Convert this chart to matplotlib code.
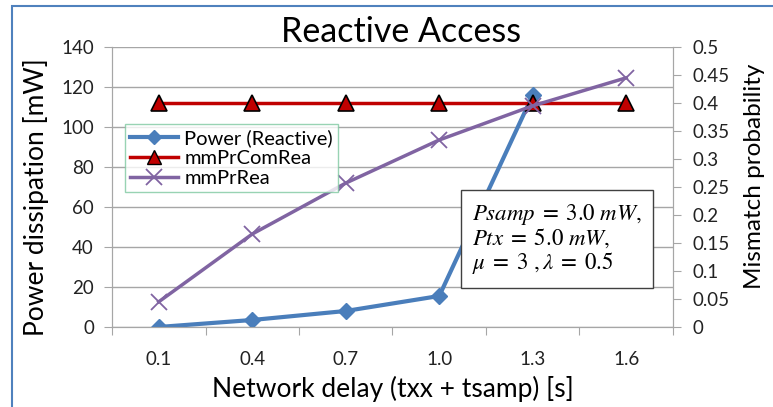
import matplotlib.pyplot as plt
from matplotlib.patches import Rectangle
from matplotlib.lines import Line2D

plt.rcParams['font.family'] = ['Lato', 'DejaVu Sans']
plt.rcParams['mathtext.fontset'] = 'stix'

# data
delays = ['0.1', '0.4', '0.7', '1.0', '1.3', '1.6']
power_reactive = [0, 3.5, 8, 15.5, 116]          # mW, last point missing
mm_pr_com_rea = [0.4, 0.4, 0.4, 0.4, 0.4, 0.4]
mm_pr_rea = [0.045, 0.166, 0.257, 0.334, 0.395, 0.445]

fig = plt.figure(figsize=(7.73, 4.07), dpi=100)
ax = fig.add_axes([0.1449, 0.1966, 0.7257, 0.6879])
ax2 = ax.twinx()

# outer blue frame (cut off on right / bottom like the screenshot)
fig.patches.append(Rectangle((12 / 773, -0.05), 1.0, 1 - 6 / 407 + 0.05,
                             transform=fig.transFigure, fill=False,
                             edgecolor='#4f81bd', lw=1.5))

xpos = [i + 0.5 for i in range(len(delays))]
grid_c = '#a6a6a6'
tick_fs = 13.5

ax.plot(xpos[:len(power_reactive)], power_reactive, color='#4a7ebb', lw=3,
        marker='D', ms=8, mfc='#4a7ebb', mec='#4a7ebb', zorder=3)
ax2.plot(xpos, mm_pr_com_rea, color='#c00000', lw=2.5, marker='^', ms=11,
         mfc='#c00000', mec='black', mew=1.2, zorder=3)
ax2.plot(xpos, mm_pr_rea, color='#8064a2', lw=2.5, marker='x', ms=12,
         mew=1.3, zorder=4)

ax.set_xlim(0, 6)
ax.set_ylim(0, 140)
ax.set_yticks(range(0, 141, 20))
ax2.set_ylim(0, 0.5)
ax2.set_yticks([i * 0.05 for i in range(11)])
ax2.set_yticklabels(['0', '0.05', '0.1', '0.15', '0.2', '0.25', '0.3', '0.35',
                     '0.4', '0.45', '0.5'])

ax.set_xticks(range(7))
ax.set_xticklabels([])
ax.set_xticks(xpos, minor=True)
ax.set_xticklabels(delays, minor=True)
ax.tick_params(axis='x', which='major', length=6, color=grid_c, direction='out')
ax.tick_params(axis='x', which='minor', length=0, pad=17, labelsize=tick_fs,
               labelcolor='#222222')
ax.tick_params(axis='y', length=6, pad=7, color=grid_c, labelsize=tick_fs,
               labelcolor='#222222')
ax2.tick_params(axis='y', length=6, pad=8, color=grid_c, labelsize=tick_fs,
                labelcolor='#222222')

ax.yaxis.grid(True, color=grid_c, lw=1)
ax.set_axisbelow(True)
for a in (ax, ax2):
    a.spines['top'].set_visible(False)
    for s in ('left', 'right', 'bottom'):
        a.spines[s].set_color(grid_c)

ax.set_ylabel('Power dissipation [mW]', fontsize=19)
ax.yaxis.set_label_coords(49 / 773, 1 - 197 / 407, transform=fig.transFigure)
ax2.set_ylabel('Mismatch probability', fontsize=17.5)
ax2.yaxis.set_label_coords(744 / 773, 1 - 176 / 407, transform=fig.transFigure)
ax.set_xlabel('Network delay (txx + tsamp) [s]', fontsize=19, labelpad=6)
fig.text(401 / 773, 0.922, 'Reactive Access', fontsize=24.5, ha='center',
         va='center')

handles = [
    Line2D([], [], color='#4a7ebb', lw=3, marker='D', ms=7, mfc='#4a7ebb'),
    Line2D([], [], color='#c00000', lw=2.5, marker='^', ms=10, mfc='#c00000',
           mec='black'),
    Line2D([], [], color='#8064a2', lw=2.5, marker='x', ms=11, mew=1.3),
]
leg = ax2.legend(handles, ['Power (Reactive)', 'mmPrComRea', 'mmPrRea'],
                 loc='upper left', bbox_to_anchor=(125 / 773, 1 - 124 / 407),
                 bbox_transform=fig.transFigure, fontsize=14.5, frameon=True,
                 fancybox=False, handlelength=2.4, handletextpad=0.3,
                 borderpad=0.25, labelspacing=0.15, borderaxespad=0)
leg.get_frame().set_edgecolor('#7fc8a0')
leg.get_frame().set_linewidth(1)

fig.text(472 / 773, 1 - 239 / 407,
         '$Psamp\\;=\\;3.0\\ mW,$\n$Ptx\\;=\\;5.0\\ mW,$\n'
         '$\\mu\\;=\\;3\\ ,\\lambda\\;=\\;0.5$',
         fontsize=16.5, ha='left', va='center', linespacing=1.0,
         bbox=dict(boxstyle='square,pad=0.5', facecolor='white',
                   edgecolor='#404040', lw=1), zorder=10)

fig.savefig('out.png', dpi=100)
